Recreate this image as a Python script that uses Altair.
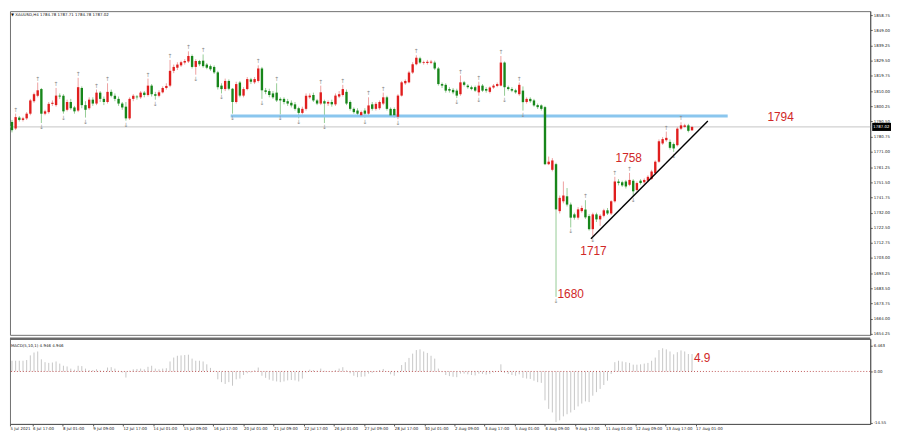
import altair as alt
import pandas as pd

# ---------------- data ----------------
opens = [1790.2,1786.0,1793.0,1791.5,1792.5,1795.5,1803.5,1807.0,1811.3,1795.5,
1796.5,1801.8,1801.0,1807.1,1807.0,1798.0,1803.0,1799.5,1797.5,1812.0,
1801.0,1799.0,1804.5,1802.0,1809.0,1805.0,1803.0,1809.5,1807.0,1805.0,
1802.0,1800.0,1792.5,1805.0,1806.5,1806.0,1809.0,1807.5,1813.5,1808.0,
1807.0,1809.2,1812.0,1813.5,1823.0,1825.0,1826.5,1828.3,1829.0,1832.5,
1825.5,1829.3,1829.5,1827.0,1826.0,1825.5,1822.0,1813.5,1811.3,1816.5,
1811.5,1803.0,1815.5,1807.1,1811.3,1817.5,1815.6,1816.5,1824.5,1810.5,
1810.0,1808.5,1809.0,1805.0,1805.0,1803.5,1802.5,1801.5,1799.0,1796.0,
1798.6,1806.0,1807.5,1804.0,1802.0,1803.5,1802.0,1803.0,1801.5,1806.5,
1807.5,1809.5,1803.0,1798.6,1797.5,1794.5,1797.5,1795.5,1801.5,1798.6,
1799.0,1802.0,1806.0,1798.6,1798.5,1793.5,1807.1,1815.0,1815.6,1821.9,
1827.2,1831.0,1828.0,1828.0,1828.2,1828.3,1824.5,1814.5,1814.0,1811.3,
1810.8,1810.3,1808.0,1815.6,1813.5,1812.5,1812.5,1809.2,1813.5,1811.3,
1809.5,1812.3,1813.3,1813.5,1828.3,1812.5,1811.3,1810.5,1808.0,1810.3,
1803.0,1805.0,1804.0,1801.0,1800.8,1799.7,1763.1,1759.5,1763.1,1733.0,
1739.3,1742.5,1737.2,1730.9,1728.8,1733.0,1734.0,1729.8,1721.4,1730.9,
1727.7,1730.0,1733.5,1731.5,1739.3,1752.0,1751.5,1752.0,1749.9,1752.5,
1746.5,1752.5,1751.5,1752.5,1753.7,1757.3,1764.7,1776.4,1778.5,1777.4,
1776.0,1775.3,1785.9,1787.0,1788.0,1784.78]

highs = [1791.5,1795.5,1794.0,1793.5,1796.5,1805.0,1809.0,1815.5,1812.0,1798.0,
1803.0,1804.0,1812.0,1808.5,1808.0,1804.5,1805.0,1800.5,1818.5,1813.0,
1803.5,1806.0,1806.0,1811.0,1810.0,1806.5,1815.0,1811.0,1808.5,1806.5,
1803.0,1803.0,1806.0,1808.0,1807.5,1810.0,1810.0,1818.0,1814.5,1809.5,
1810.5,1813.0,1815.0,1830.0,1827.0,1828.5,1829.5,1830.5,1835.5,1833.5,
1830.5,1830.0,1833.5,1828.0,1827.0,1826.5,1823.0,1815.0,1818.0,1817.5,
1812.0,1816.0,1816.5,1812.5,1819.0,1818.5,1819.0,1826.5,1825.5,1812.0,
1811.5,1810.0,1815.0,1806.0,1806.0,1805.0,1804.0,1803.0,1800.0,1800.0,
1808.5,1808.5,1809.0,1805.0,1813.5,1804.5,1804.0,1804.5,1808.5,1810.0,
1814.0,1811.0,1804.0,1799.5,1799.0,1797.5,1799.0,1806.0,1803.0,1803.0,
1804.0,1809.0,1807.0,1799.5,1799.5,1808.0,1816.5,1817.5,1823.0,1828.5,
1833.0,1832.0,1829.5,1830.0,1830.0,1829.5,1825.5,1815.5,1815.0,1812.5,
1812.0,1811.5,1820.0,1816.5,1814.5,1813.5,1813.5,1816.0,1814.5,1812.5,
1813.0,1814.5,1815.5,1832.5,1829.0,1813.5,1812.5,1811.5,1815.5,1813.0,
1806.0,1806.0,1805.0,1802.0,1801.5,1800.5,1768.0,1767.0,1764.0,1743.0,
1752.0,1747.8,1738.5,1732.0,1735.5,1736.5,1740.0,1731.0,1732.0,1732.0,
1731.0,1734.5,1735.0,1740.0,1755.0,1753.5,1752.5,1753.0,1757.5,1753.5,
1752.0,1753.5,1754.0,1756.0,1759.5,1765.5,1779.0,1780.5,1784.0,1779.0,
1777.0,1787.0,1790.0,1789.0,1789.0,1787.71]

lows = [1783.5,1785.0,1790.5,1790.5,1791.5,1794.5,1802.5,1806.0,1789.5,1794.5,
1795.5,1800.5,1800.0,1805.0,1795.5,1797.0,1798.0,1795.5,1796.5,1799.0,
1793.0,1798.0,1800.5,1801.0,1803.0,1801.0,1802.0,1806.0,1803.5,1800.5,
1798.0,1791.0,1791.5,1803.5,1804.5,1805.0,1806.0,1806.5,1806.5,1804.5,
1806.0,1808.5,1811.0,1812.5,1821.5,1823.5,1825.5,1827.0,1828.0,1824.5,
1820.5,1826.0,1825.0,1824.0,1823.0,1821.0,1811.0,1808.5,1810.0,1810.5,
1795.5,1802.0,1806.0,1806.0,1810.5,1814.5,1814.5,1815.5,1805.0,1808.0,
1806.0,1805.0,1803.0,1795.0,1801.5,1800.5,1799.5,1797.5,1792.5,1795.0,
1797.5,1805.0,1803.0,1801.0,1801.0,1789.5,1800.5,1800.0,1800.5,1805.5,
1806.5,1801.0,1797.5,1795.5,1794.5,1793.5,1793.0,1794.5,1797.5,1797.5,
1798.0,1801.0,1797.5,1793.5,1793.0,1792.0,1806.5,1814.0,1815.0,1821.0,
1826.5,1827.5,1827.0,1827.0,1827.3,1823.5,1813.5,1812.0,1809.0,1809.0,
1808.0,1805.5,1807.0,1813.0,1811.5,1810.5,1809.5,1807.0,1809.5,1809.0,
1808.5,1811.5,1812.5,1813.0,1807.0,1810.3,1809.3,1808.3,1807.0,1797.5,
1802.0,1802.5,1800.0,1798.5,1797.5,1762.5,1762.5,1758.5,1678.0,1731.5,
1738.0,1736.0,1722.5,1727.5,1727.5,1732.0,1728.0,1720.5,1717.0,1726.0,
1723.5,1729.0,1730.5,1730.5,1738.5,1749.5,1748.5,1747.5,1749.0,1742.5,
1745.5,1750.0,1750.5,1751.5,1753.0,1756.5,1764.0,1775.5,1777.5,1772.5,
1771.0,1774.5,1785.0,1786.5,1783.5,1784.78]

closes = [1784.9,1793.3,1791.5,1792.5,1795.5,1804.0,1808.0,1810.5,1795.5,1797.0,
1801.8,1802.5,1807.1,1806.5,1797.0,1803.0,1799.0,1797.0,1812.5,1801.0,
1798.0,1804.5,1802.0,1809.0,1805.0,1803.0,1809.5,1807.0,1805.0,1802.0,
1799.5,1792.5,1805.0,1807.0,1806.0,1809.0,1807.5,1813.5,1808.0,1807.0,
1809.2,1812.0,1813.3,1823.0,1825.5,1827.0,1828.5,1829.3,1832.5,1825.5,
1829.3,1827.2,1826.0,1825.0,1824.0,1822.0,1812.5,1811.3,1816.5,1811.5,
1803.0,1814.5,1807.1,1811.3,1817.7,1816.0,1817.7,1824.5,1810.5,1809.5,
1807.5,1806.0,1804.0,1804.0,1803.0,1802.0,1800.8,1798.6,1796.0,1798.6,
1807.0,1807.1,1804.0,1802.0,1809.2,1802.0,1803.0,1801.5,1807.1,1808.0,
1811.3,1802.0,1798.6,1796.5,1795.5,1796.5,1795.5,1800.8,1798.6,1801.8,
1803.0,1806.0,1798.6,1794.4,1794.5,1807.1,1815.6,1816.5,1821.9,1827.2,
1831.4,1828.3,1828.5,1828.8,1828.9,1824.5,1814.5,1813.5,1810.3,1810.3,
1809.2,1807.1,1815.6,1814.0,1812.5,1811.3,1810.3,1813.5,1810.3,1810.3,
1812.3,1813.5,1814.5,1828.3,1812.5,1811.3,1810.3,1809.2,1814.0,1802.9,
1805.0,1803.5,1800.8,1799.7,1798.6,1763.1,1764.7,1765.5,1734.1,1741.5,
1743.0,1737.2,1728.8,1728.8,1734.1,1735.0,1729.0,1721.4,1730.9,1727.7,
1730.0,1733.5,1731.5,1739.3,1752.0,1751.0,1749.5,1748.8,1753.0,1745.7,
1751.0,1751.0,1753.0,1755.0,1758.4,1764.7,1777.8,1779.2,1780.0,1773.6,
1773.2,1785.9,1788.0,1788.0,1784.5,1787.02]

macd = [3.0,3.0,3.0,3.0,3.2, 4.5,5.3,5.6,3.4, 2.6,2.4,2.5,2.8,2.2, 1.6,1.4,0.8,0.5,
1.6,1.5,0.8, 0.4,0.4,0.6,0.3,0.2, 1.1,1.2,0.8, 0.2,-0.3, -1.7,
0.2,0.6,0.7,0.8,0.6,1.3, 1.6, 0.8,0.6,0.8,0.9, 2.8,3.9,4.4,4.5,4.6, 4.7,
3.6,3.0,3.0,2.8, 2.0, 1.0,0.2, -2.2,-3.0,-3.5,-3.0,-4.0,-2.2,-2.0,
-1.0,-0.5,-0.3, 0.3,1.1,
-1.2,-1.8,-2.3,-2.6,-2.8,-3.0,-2.8,-2.5,-2.4,-2.5,-2.8,-2.0,
-0.3,0.5,0.4,0.2,0.8,0.2,-0.1,-0.2,0.4,
0.8,1.2,0.3,-0.5,-1.2,-1.6,-1.5,-1.4,-0.6,
-0.4,0.1,0.4,0.7,-0.1,-0.8,-1.2,-0.3,
1.8,2.6,3.8,5.0,6.0,6.2,5.6,5.2,4.4,3.6,
0.8,-0.2,-1.0,-1.3,
-1.5,-1.6,-0.6,-0.6,-0.8,-1.0,-1.1,-0.6,-0.7,-0.9,-0.7,-0.3,0.1,
2.0,
-0.4,-0.7,-1.0,-1.2,-0.8,-1.8,-2.0,-2.1,-2.6,-3.0,-3.2,
-8.1,-10.5,-11.5,-14.2,-13.7,
-12.6,-12.0,-11.5,-10.8,-9.8,-9.0,-8.4,-8.6,
-6.8,-5.8,-4.9,-3.8,-2.6,-0.7,
2.6,3.0,2.8,2.6,2.4,1.9,1.9,2.0,2.2,2.4,
3.0,3.9,6.0,
6.5,6.2,5.6,4.8,5.4,5.9,
5.6,4.9,4.9]

up_fractals = [1,7,12,18,23,26,37,43,48,52,67,72,84,90,97,101,110,122,127,133,138,
               156,164,168,178,182]
down_fractals = [8,14,20,31,39,50,57,60,68,73,78,85,96,105,121,127,134,139,148,152,
                 158,169,180]

price_ticks = [1654.25,1664.00,1673.75,1683.50,1693.25,1703.00,1712.75,1722.50,
               1732.00,1741.75,1751.50,1761.25,1771.00,1780.75,1790.50,1800.25,
               1810.00,1819.75,1829.50,1839.25,1849.00,1858.75]

date_labels = ["5 Jul 2021","6 Jul 17:00","8 Jul 01:00","9 Jul 09:00","12 Jul 17:00",
               "14 Jul 01:00","15 Jul 09:00","16 Jul 17:00","20 Jul 01:00","21 Jul 09:00",
               "22 Jul 17:00","26 Jul 01:00","27 Jul 09:00","28 Jul 17:00","30 Jul 01:00",
               "2 Aug 09:00","3 Aug 17:00","5 Aug 01:00","6 Aug 09:00","9 Aug 17:00",
               "11 Aug 01:00","12 Aug 09:00","13 Aug 17:00","17 Aug 01:00"]

ann_text = ["1794", "1758", "1717", "1680"]
ann_bar = [205.5, 164.2, 154.6, 148.4]
ann_price = [1793.3, 1767.2, 1707.6, 1679.7]

level_price = 1794.0
level_from, level_to = 59.5, 194.7
trend_bar = [157.5, 189.3]
trend_price = [1715.2, 1790.8]

macd_note = "4.9"
macd_note_bar = 185.5
macd_note_val = 3.9

title_text = "\u25bc XAUUSD,H4  1784.78 1787.71 1784.78 1787.02"
macd_title = "MACD(5,10,1) 4.946 4.946"
macd_axis_labels = ["6.463", "0.00", "-14.55"]
macd_axis_pos = [7.2, 0.0, -14.45]

# ---------------- styling ----------------
RED = "#e01e1e"
GREEN = "#17861a"
RED_W = "#eea0a0"
GREEN_W = "#95cc95"
ANN = "#d02828"

W = 869
H_MAIN = 327
H_MACD = 86
XD = [-0.5386, 233.47]
PD = [1653.62, 1861.29]
MD = [-14.72, 9.16]

n = len(closes)
candles = pd.DataFrame({"i": list(range(n)), "open": opens, "high": highs,
                        "low": lows, "close": closes})
up_df = pd.DataFrame({"i": up_fractals, "p": [highs[k] for k in up_fractals],
                      "g": ["\u2191"] * len(up_fractals)})
dn_df = pd.DataFrame({"i": down_fractals, "p": [lows[k] for k in down_fractals],
                      "g": ["\u2193"] * len(down_fractals)})

xs = alt.Scale(domain=XD, nice=False, zero=False)
ys = alt.Scale(domain=PD, nice=False, zero=False)
ms = alt.Scale(domain=MD, nice=False, zero=False)

bull = alt.datum.close >= alt.datum.open

PRICE_AXIS = alt.Axis(orient="right", values=price_ticks, format=".2f",
                      tickSize=2, labelPadding=1, labelOverlap=False,
                      labelSeparation=0, labelFlush=False, labelBound=False,
                      title=None)

X_MAIN = alt.X("i:Q", scale=xs, axis=None, title=None)


def YP(field):
    return alt.Y(field, scale=ys, axis=PRICE_AXIS, title=None)


wicks = alt.Chart(candles).mark_rule(strokeWidth=1).encode(
    x=X_MAIN, y=YP("low:Q"), y2="high:Q",
    color=alt.condition(bull, alt.value(RED_W), alt.value(GREEN_W)),
)
bodies = alt.Chart(candles).mark_rule(strokeWidth=2.4).encode(
    x=X_MAIN, y=YP("open:Q"), y2="close:Q",
    color=alt.condition(bull, alt.value(RED), alt.value(GREEN)),
)

frac_up = alt.Chart(up_df).mark_text(font="DejaVu Sans", fontSize=6, color="#8e8e8e",
                                     baseline="bottom", dy=-1).encode(
    x=X_MAIN, y=YP("p:Q"), text="g:N")
frac_dn = alt.Chart(dn_df).mark_text(font="DejaVu Sans", fontSize=6, color="#8e8e8e",
                                     baseline="top", dy=1).encode(
    x=X_MAIN, y=YP("p:Q"), text="g:N")

last_df = pd.DataFrame({"p": [closes[-1]], "t": ["%.2f" % closes[-1]],
                        "p_hi": [closes[-1] + 2.6], "p_lo": [closes[-1] - 2.6]})
price_line = alt.Chart(last_df).mark_rule(color="#c4c4c4", strokeWidth=1).encode(
    y=YP("p:Q"))
price_box = alt.Chart(last_df).mark_rect(color="#000000").encode(
    x=alt.value(W + 2), x2=alt.value(W + 21), y=YP("p_hi:Q"), y2="p_lo:Q")
price_txt = alt.Chart(last_df).mark_text(color="white", font="DejaVu Sans", fontSize=4,
                                         align="left", baseline="middle").encode(
    x=alt.value(W + 3), y=YP("p:Q"), text="t:N")

level_df = pd.DataFrame({"a": [level_from], "b": [level_to], "p": [level_price]})
level = alt.Chart(level_df).mark_rule(color="#8ac6ee", strokeWidth=3).encode(
    x=alt.X("a:Q", scale=xs, axis=None, title=None), x2="b:Q", y=YP("p:Q"))

trend_df = pd.DataFrame({"i": trend_bar, "p": trend_price})
trend = alt.Chart(trend_df).mark_line(color="#000000", strokeWidth=1.4).encode(
    x=X_MAIN, y=YP("p:Q"))

ann_df = pd.DataFrame({"t": ann_text, "i": ann_bar, "p": ann_price})
ann = alt.Chart(ann_df).mark_text(color=ANN, font="Liberation Sans", fontSize=12,
                                  align="left", baseline="middle").encode(
    x=X_MAIN, y=YP("p:Q"), text="t:N")

title_df = pd.DataFrame({"t": [title_text]})
title = alt.Chart(title_df).mark_text(font="DejaVu Sans", fontSize=4, color="#111",
                                      align="left", baseline="top").encode(
    x=alt.value(1), y=alt.value(1.5), text="t:N")

main = alt.layer(wicks, price_line, level, bodies, frac_up, frac_dn, trend, ann,
                 price_box, price_txt, title).properties(width=W, height=H_MAIN)

# ---------------- MACD panel ----------------
macd_df = pd.DataFrame({"i": list(range(n)), "m": macd, "z": [0.0] * n})
k_js = "[" + ",".join("'%s'" % s for s in date_labels) + "]"
x_ticks = [max(-0.5, round(-2.626 + 8.2 * k, 3)) for k in range(len(date_labels))]
ml_js = "[" + ",".join("'%s'" % s for s in macd_axis_labels) + "]"

DATE_AXIS = alt.Axis(values=x_ticks,
                     labelExpr=k_js + "[round((datum.value + 2.626) / 8.2)]",
                     labelAlign="left", labelFlush=False, labelOverlap=False,
                     labelSeparation=0, labelBound=False,
                     tickSize=2, labelPadding=1, title=None)
MACD_AXIS = alt.Axis(orient="right", values=macd_axis_pos,
                     labelExpr=ml_js + "[datum.value > 1 ? 0 : (datum.value < -1 ? 2 : 1)]",
                     tickSize=2, labelPadding=1, labelFlush=False, labelOverlap=False,
                     labelSeparation=0, labelBound=False, title=None)

X_MACD = alt.X("i:Q", scale=xs, axis=DATE_AXIS, title=None)


def YM(field):
    return alt.Y(field, scale=ms, axis=MACD_AXIS, title=None)


hist = alt.Chart(macd_df).mark_rule(color="#c6c6c6", strokeWidth=1).encode(
    x=X_MACD, y=YM("m:Q"), y2="z:Q")
zero_df = pd.DataFrame({"z": [0.0]})
zero = alt.Chart(zero_df).mark_rule(color="#b03030", strokeWidth=0.8,
                                    strokeDash=[1, 2]).encode(y=YM("z:Q"))
sep = alt.Chart(zero_df).mark_rule(color="#6a6a6a", strokeWidth=2.5).encode(
    y=alt.value(0))
note_df = pd.DataFrame({"t": [macd_note], "i": [macd_note_bar], "m": [macd_note_val]})
note = alt.Chart(note_df).mark_text(color=ANN, font="Liberation Sans", fontSize=12,
                                    align="left", baseline="middle").encode(
    x=X_MACD, y=YM("m:Q"), text="t:N")
mt_df = pd.DataFrame({"t": [macd_title]})
mtitle = alt.Chart(mt_df).mark_text(font="DejaVu Sans", fontSize=4, color="#111",
                                    align="left", baseline="middle").encode(
    x=alt.value(1), y=alt.value(7), text="t:N")

macd_panel = alt.layer(hist, zero, sep, note, mtitle).properties(width=W, height=H_MACD)

chart = alt.vconcat(main, macd_panel, spacing=0).properties(
    padding=0,
    background="white",
).configure_view(stroke="#707070", strokeWidth=1).configure_axis(
    labelFont="DejaVu Sans", labelFontSize=4, labelColor="#222",
    domainColor="#555", tickColor="#555", grid=False)

chart.save("out.html", embed_options={"renderer": "svg", "actions": False})
